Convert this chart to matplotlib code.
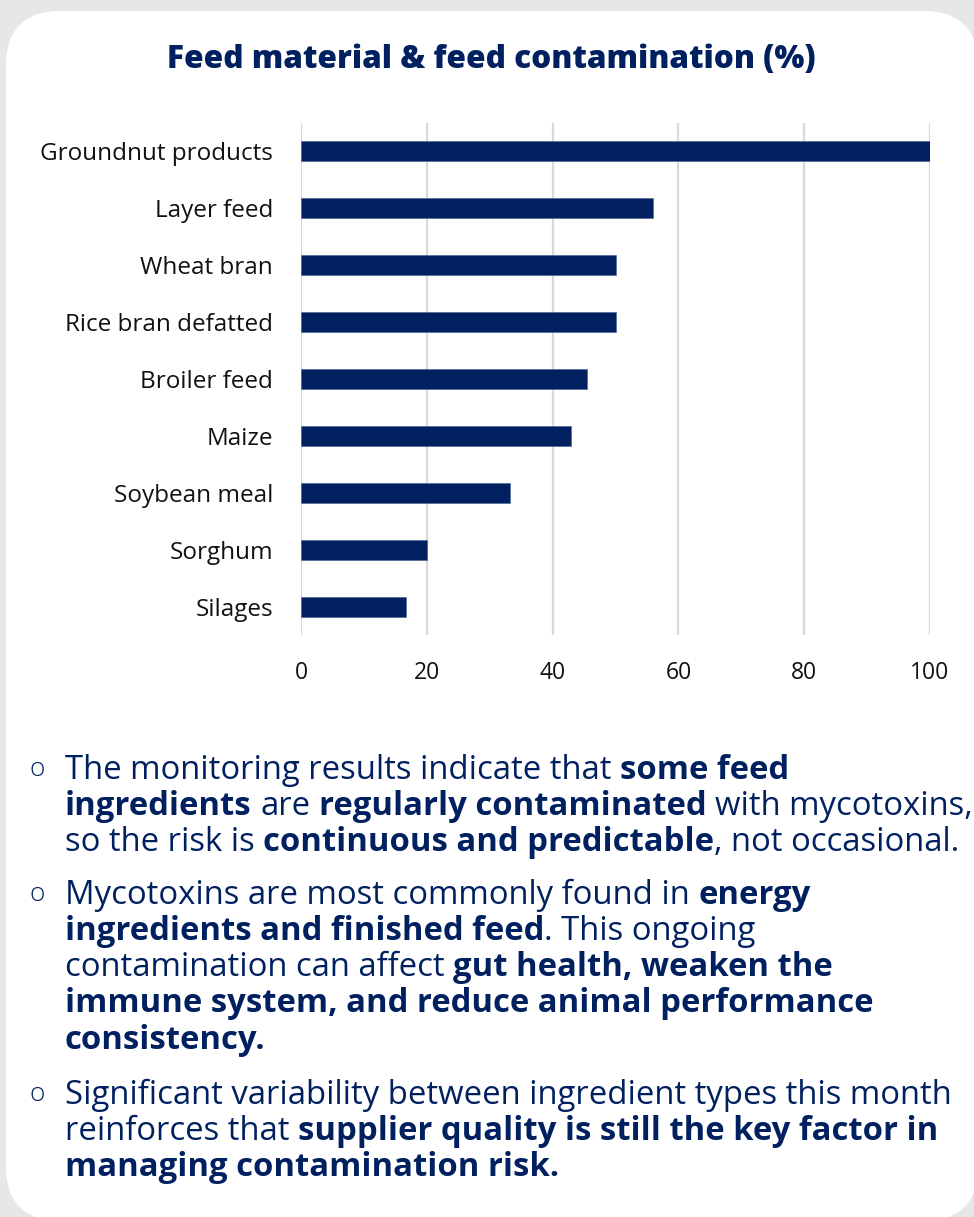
import matplotlib
matplotlib.use("Agg")
import matplotlib.pyplot as plt
from matplotlib.patches import FancyBboxPatch

categories = ["Groundnut products", "Layer feed", "Wheat bran", "Rice bran defatted",
              "Broiler feed", "Maize", "Soybean meal", "Sorghum", "Silages"]
values = [100, 56, 50, 50, 45.5, 43, 33.3, 20, 16.7]
xticks = [0, 20, 40, 60, 80, 100]
title = "Feed material & feed contamination (%)"

bullets = [
    [
        [("The monitoring results indicate that ", False), ("some feed", True)],
        [("ingredients", True), (" are ", False), ("regularly contaminated", True), (" with mycotoxins,", False)],
        [("so the risk is ", False), ("continuous and predictable", True), (", not occasional.", False)],
    ],
    [
        [("Mycotoxins are most commonly found in ", False), ("energy", True)],
        [("ingredients and finished feed", True), (". This ongoing", False)],
        [("contamination can affect ", False), ("gut health, weaken the", True)],
        [("immune system, and reduce animal performance", True)],
        [("consistency.", True)],
    ],
    [
        [("Significant variability between ingredient types this month", False)],
        [("reinforces that ", False), ("supplier quality is still the key factor in", True)],
        [("managing contamination risk.", True)],
    ],
]
bullet_baselines = [[779, 815, 851], [904, 940, 976, 1012, 1049], [1104, 1140, 1176]]

FONT = "Open Sans"
NAVY = "#002060"
BG = "#e6e7e9"

W, H = 974, 1217
fig = plt.figure(figsize=(W / 100, H / 100), dpi=100)
fig.patch.set_facecolor(BG)

# card in pixel-based inches (origin bottom-left)
card_l, card_t, card_r, card_b = 6, 11, 978, 1221
card = FancyBboxPatch((card_l / 100, (H - card_b) / 100), (card_r - card_l) / 100, (card_b - card_t) / 100,
                      boxstyle="round,pad=0,rounding_size=0.55",
                      transform=fig.dpi_scale_trans, facecolor="white", edgecolor="none",
                      zorder=-5)
fig.patches.append(card)

def fx(x):
    return x / W

def fy(y):
    return 1 - y / H

renderer = fig.canvas.get_renderer()

def text_width(s, size, weight):
    t = fig.text(0, 0, s, fontsize=size, family=FONT, fontweight=weight)
    w = t.get_window_extent(renderer).width
    t.remove()
    return w

# title fitted to width
tsize = 22
tw = text_width(title, tsize, "heavy")
tsize = tsize * 647 / tw
fig.text(fx(491), fy(68), title, fontsize=tsize, family=FONT, fontweight="heavy",
         color=NAVY, ha="center", va="baseline")

# axes
ax_left, ax_right = 301, 930
ax_top, ax_bottom = 123, 635
ax = fig.add_axes([fx(ax_left), fy(ax_bottom), (ax_right - ax_left) / W, (ax_bottom - ax_top) / H])
ax.set_facecolor("none")
ypos = list(range(len(categories)))
ax.barh(ypos, values, height=0.35, color=NAVY, edgecolor="#4a5f95", linewidth=0.4, zorder=3)
ax.set_xlim(0, 100)
ax.set_ylim(len(categories) - 0.5, -0.5)
ax.set_xticks(xticks)
ax.set_xticklabels([str(v) for v in xticks])
ax.set_yticks(ypos)
ax.set_yticklabels(categories)
ax.grid(axis="x", color="#d9d9d9", linewidth=1.6, zorder=0)
ax.set_axisbelow(True)
for s in ax.spines.values():
    s.set_visible(False)
ax.tick_params(axis="y", length=0, labelsize=17.5, colors="#111111", pad=20)
ax.tick_params(axis="x", length=0, labelsize=16.5, colors="#111111", pad=19)
for lab in ax.get_xticklabels() + ax.get_yticklabels():
    lab.set_family(FONT)

# bullets: fit font size so that longest regular line spans ~885 px
bsize = 20
ref = text_width("Significant variability between ingredient types this month", bsize, "normal")
bsize = bsize * 885 / ref
space_r = text_width("a a", bsize, "normal") - text_width("aa", bsize, "normal")
space_b = text_width("a a", bsize, "bold") - text_width("aa", bsize, "bold")

def draw_runs(x0, yb, runs):
    x = x0
    for s, bold in runs:
        lead = len(s) - len(s.lstrip(" "))
        trail = len(s) - len(s.rstrip(" "))
        core = s.strip(" ")
        sp = space_b if bold else space_r
        x += lead * sp
        if core:
            t = fig.text(fx(x), fy(yb), core, fontsize=bsize, family=FONT,
                         fontweight="bold" if bold else "normal", color=NAVY,
                         ha="left", va="baseline")
            x += t.get_window_extent(renderer).width
        x += trail * sp

for lines, bases in zip(bullets, bullet_baselines):
    fig.text(fx(37), fy(bases[0] - 3), "o", fontsize=bsize * 0.8, family=FONT, color=NAVY,
             fontweight="light", ha="center", va="baseline")
    for runs, yb in zip(lines, bases):
        draw_runs(65, yb, runs)

fig.savefig("out.png", dpi=100, facecolor=BG)
